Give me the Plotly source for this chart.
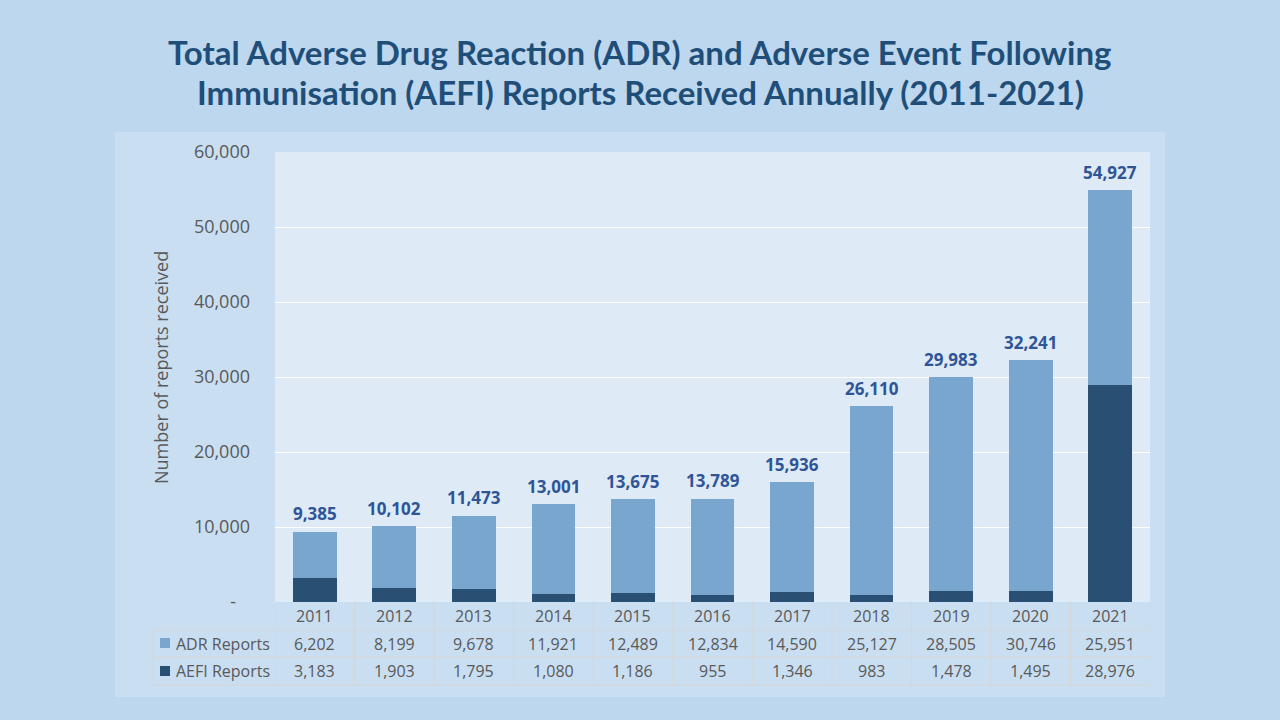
import plotly.graph_objects as go

years = ["2011", "2012", "2013", "2014", "2015", "2016", "2017", "2018", "2019", "2020", "2021"]
adr = [6202, 8199, 9678, 11921, 12489, 12834, 14590, 25127, 28505, 30746, 25951]
aefi = [3183, 1903, 1795, 1080, 1186, 955, 1346, 983, 1478, 1495, 28976]
totals = [a + b for a, b in zip(adr, aefi)]
y_ticks = [0, 10000, 20000, 30000, 40000, 50000, 60000]
y_ticktext = ["-\u00a0\u00a0\u00a0", "10,000", "20,000", "30,000", "40,000", "50,000", "60,000"]
title_lines = ["Total Adverse Drug Reaction (ADR) and Adverse Event Following",
               "Immunisation (AEFI) Reports Received Annually (2011-2021)"]

W, H = 1280, 720
def px(x): return x / W
def py(y): return 1 - y / H

PAGE_BG = "#BDD7EE"
PANEL_BG = "#C9DEF1"
PLOT_BG = "#DEEAF6"
ADR_C = "#79A6CF"
AEFI_C = "#294F73"
TXT = "#595959"
GRIDC = "#D6D6D6"

fig = go.Figure()
fig.add_trace(go.Bar(x=list(range(len(years))), y=aefi, name="AEFI Reports", marker_color=AEFI_C,
                     marker_line_width=0, width=0.55))
fig.add_trace(go.Bar(x=list(range(len(years))), y=adr, name="ADR Reports", marker_color=ADR_C,
                     marker_line_width=0, width=0.55))

plot_l, plot_r, plot_t, plot_b = 275, 1150, 152, 602

fig.update_layout(
    width=W, height=H, margin=dict(l=0, r=0, t=0, b=0, pad=0, autoexpand=False),
    paper_bgcolor=PAGE_BG, plot_bgcolor="rgba(0,0,0,0)",
    barmode="stack", showlegend=False,
    xaxis=dict(domain=[px(plot_l), px(plot_r)], range=[-0.5, 10.5], showticklabels=False,
               showgrid=False, zeroline=False, fixedrange=True, automargin=False),
    yaxis=dict(domain=[py(plot_b), py(plot_t)], range=[0, 60000], tickvals=y_ticks, ticktext=y_ticktext,
               showgrid=True, gridcolor="white", gridwidth=1, zeroline=False, automargin=False,
               tickfont=dict(family="Open Sans", size=18, color=TXT), ticks="", ticklabelstandoff=24),
)

shapes = []
shapes.append(dict(type="rect", xref="paper", yref="paper", x0=px(115), x1=px(1165), y0=py(697), y1=py(132),
                   fillcolor=PANEL_BG, line=dict(width=0), layer="below"))
shapes.append(dict(type="rect", xref="paper", yref="paper", x0=px(plot_l), x1=px(plot_r), y0=py(plot_b), y1=py(plot_t),
                   fillcolor=PLOT_BG, line=dict(width=0), layer="below"))
for yl in [630, 657, 685]:
    shapes.append(dict(type="line", xref="paper", yref="paper", x0=px(153), x1=px(plot_r), y0=py(yl), y1=py(yl),
                       line=dict(color=GRIDC, width=1)))
shapes.append(dict(type="line", xref="paper", yref="paper", x0=px(153), x1=px(153), y0=py(630), y1=py(685),
                   line=dict(color=GRIDC, width=1)))
for i in range(len(years) + 1):
    shapes.append(dict(type="line", xref="x", yref="paper", x0=i - 0.5, x1=i - 0.5, y0=py(602), y1=py(685),
                       line=dict(color=GRIDC, width=1)))
shapes.append(dict(type="rect", xref="paper", yref="paper", x0=px(160), x1=px(170), y0=py(648), y1=py(638),
                   fillcolor=ADR_C, line=dict(width=0)))
shapes.append(dict(type="rect", xref="paper", yref="paper", x0=px(160), x1=px(170), y0=py(676), y1=py(666),
                   fillcolor=AEFI_C, line=dict(width=0)))
fig.update_layout(shapes=shapes)

ann = []
cell_font = dict(family="Open Sans", size=16, color=TXT)
total_font = dict(family="Open Sans", size=17, color="#2F5597", weight="bold")
for i, yr in enumerate(years):
    ann.append(dict(x=i, xref="x", y=totals[i], yref="y", text=f"{totals[i]:,}", showarrow=False, font=total_font,
                    xanchor="center", yanchor="middle", yshift=18))
    ann.append(dict(x=i, xref="x", y=py(616), yref="paper", text=yr, showarrow=False, font=cell_font,
                    xanchor="center", yanchor="middle"))
    ann.append(dict(x=i, xref="x", y=py(643.5), yref="paper", text=f"{adr[i]:,}", showarrow=False, font=cell_font,
                    xanchor="center", yanchor="middle"))
    ann.append(dict(x=i, xref="x", y=py(671), yref="paper", text=f"{aefi[i]:,}", showarrow=False, font=cell_font,
                    xanchor="center", yanchor="middle"))
ann.append(dict(x=px(174), xref="paper", y=py(643.5), yref="paper", text="ADR Reports", showarrow=False,
                font=cell_font, xanchor="left", yanchor="middle"))
ann.append(dict(x=px(174), xref="paper", y=py(671), yref="paper", text="AEFI Reports", showarrow=False,
                font=cell_font, xanchor="left", yanchor="middle"))
ann.append(dict(x=px(161), xref="paper", y=py(368), yref="paper", text="Number of reports received", showarrow=False,
                textangle=-90, font=dict(family="Open Sans", size=18, color=TXT), xanchor="center", yanchor="middle"))
title_font = dict(family="Lato", size=33, color="#1F4E79", weight="bold")
for ty, line in zip([52, 92], title_lines):
    ann.append(dict(x=0.5, xref="paper", y=py(ty), yref="paper", text=line, showarrow=False,
                    font=title_font, xanchor="center", yanchor="middle"))
fig.update_layout(annotations=ann)

fig.write_html("out.html")
